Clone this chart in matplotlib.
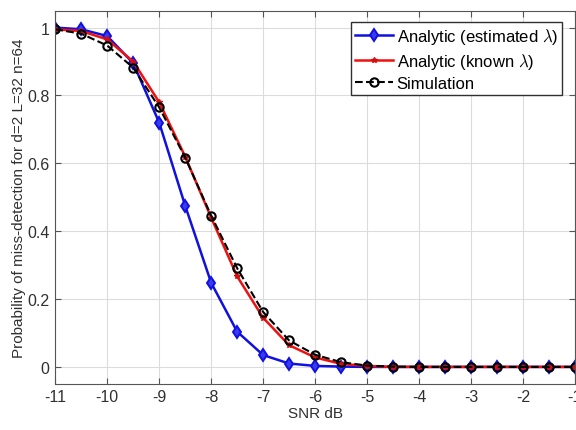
import matplotlib
matplotlib.use("Agg")
import matplotlib.pyplot as plt
import numpy as np

# SNR grid and miss-detection probabilities
snr_db = [-11, -10.5, -10, -9.5, -9, -8.5, -8, -7.5, -7, -6.5, -6,
          -5.5, -5, -4.5, -4, -3.5, -3, -2.5, -2, -1.5, -1]
pmd_estimated = [1.0, 0.995, 0.975, 0.895, 0.72, 0.475, 0.248, 0.104, 0.035, 0.010, 0.003,
                 0.001, 0.0, 0.0, 0.0, 0.0, 0.0, 0.0, 0.0, 0.0, 0.0]
pmd_known = [0.995, 0.99, 0.965, 0.90, 0.78, 0.62, 0.44, 0.267, 0.145, 0.064, 0.028,
             0.009, 0.003, 0.0, 0.0, 0.0, 0.0, 0.0, 0.0, 0.0, 0.0]
pmd_sim = [0.995, 0.982, 0.947, 0.882, 0.765, 0.617, 0.446, 0.291, 0.162, 0.078, 0.036,
           0.014, 0.004, 0.001, 0.0, 0.0, 0.0, 0.0, 0.0, 0.0, 0.0]

xticks = list(range(-11, 0))
yticks = [0, 0.2, 0.4, 0.6, 0.8, 1]

plt.rcParams["font.family"] = ["Liberation Sans", "DejaVu Sans"]
plt.rcParams["mathtext.fontset"] = "cm"

fig = plt.figure(figsize=(5.76, 4.31), dpi=100)
ax = fig.add_axes([0.096, 0.107, 0.902, 0.866])

ax.plot(snr_db, pmd_estimated, "-", color="#1010e0", lw=1.8, marker="d", ms=6,
        mfc="#3a3af0", mec="#1010e0", mew=1.4,
        label=r"Analytic (estimated $\lambda$)")
ax.plot(snr_db, pmd_known, "-", color="#f01010", lw=1.8, marker="*", ms=4,
        mfc="#d01010", mec="#d01010", label=r"Analytic (known $\lambda$)")
ax.plot(snr_db, pmd_sim, "--", color="black", lw=1.5, marker="o", ms=6,
        mfc="none", mec="black", mew=1.5, label="Simulation")

ax.set_xlim(-11, -1)
ax.set_ylim(-0.05, 1.05)
ax.set_xticks(xticks)
ax.set_xticklabels([str(t) for t in xticks])
ax.set_yticks(yticks)
ax.set_yticklabels(["0", "0.2", "0.4", "0.6", "0.8", "1"])
ax.grid(True, color="#dcdcdc", lw=0.8)
ax.set_axisbelow(True)
ax.tick_params(direction="in", top=True, right=True, labelsize=11.5,
               color="#555555", labelcolor="#303030", length=4, pad=4)
for sp in ax.spines.values():
    sp.set_color("#555555")

ax.set_xlabel("SNR dB", fontsize=11, color="#303030", labelpad=1)
ax.set_ylabel("Probability of miss-detection for d=2 L=32 n=64", fontsize=11,
              color="#303030", labelpad=1)

leg = ax.legend(loc="upper right", bbox_to_anchor=(562 / 576, 1 - 23 / 431),
                bbox_transform=fig.transFigure, borderaxespad=0,
                fontsize=12, fancybox=False, framealpha=1,
                edgecolor="#303030", handlelength=2.3,
                labelspacing=0.3, handletextpad=0.2, borderpad=0.25)
leg.get_frame().set_linewidth(1.0)

fig.savefig("out.png", dpi=100)
